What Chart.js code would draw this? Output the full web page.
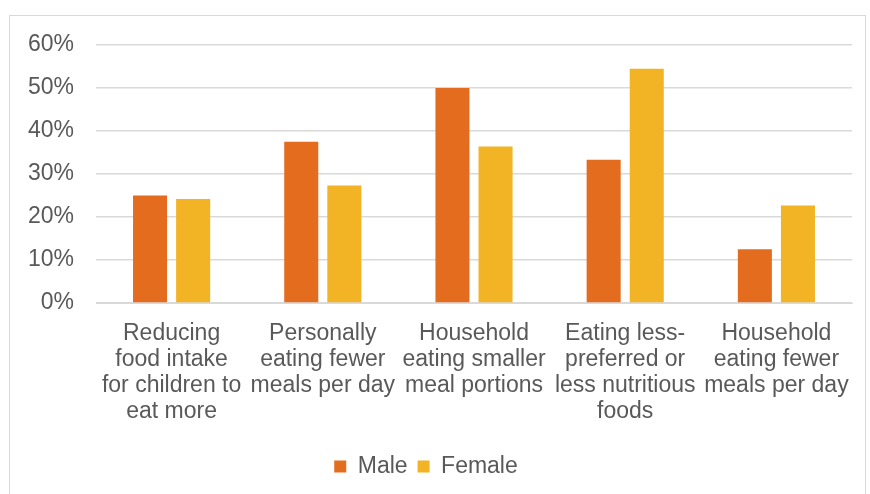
<!DOCTYPE html>
<html>
<head>
<meta charset="utf-8">
<script src="https://cdn.jsdelivr.net/npm/chart.js@4/dist/chart.umd.min.js"></script>
<style>
  html, body { margin: 0; padding: 0; background: #fff; }
  #frame { position: absolute; left: 9px; top: 15px; width: 857px; height: 490px; border: 1px solid #d9d9d9; box-sizing: border-box; }
  #wrap { position: absolute; left: 0; top: 0; width: 870px; height: 494px; }
</style>
</head>
<body>
<div id="frame"></div>
<div id="wrap"><canvas id="c" width="870" height="494"></canvas></div>
<script>
const categories = [
  ["Reducing", "food intake", "for children to", "eat more"],
  ["Personally", "eating fewer", "meals per day"],
  ["Household", "eating smaller", "meal portions"],
  ["Eating less-", "preferred or", "less nutritious", "foods"],
  ["Household", "eating fewer", "meals per day"]
];
const maleValues = [25.0, 37.5, 50.0, 33.3, 12.5];
const femaleValues = [24.2, 27.3, 36.4, 54.5, 22.7];
const yTicks = [0, 10, 20, 30, 40, 50, 60];

const font = { family: "'Liberation Sans', Arial, sans-serif", size: 23, lineHeight: 1.13 };

new Chart(document.getElementById('c'), {
  type: 'bar',
  data: {
    labels: categories,
    datasets: [
      { label: 'Male', data: maleValues, backgroundColor: '#E46C1F', categoryPercentage: 0.57, barPercentage: 0.79 },
      { label: 'Female', data: femaleValues, backgroundColor: '#F2B324', categoryPercentage: 0.57, barPercentage: 0.79 }
    ]
  },
  options: {
    responsive: false,
    animation: false,
    layout: { padding: { top: 45, right: 18, left: 0, bottom: 6 } },
    plugins: {
      legend: {
        position: 'bottom',
        labels: { font: font, color: '#595959', boxWidth: 12, boxHeight: 12, padding: 10 }
      },
      tooltip: { enabled: false }
    },
    scales: {
      x: {
        grid: { display: false, drawTicks: false },
        border: { display: true, color: '#d9d9d9', width: 1 },
        ticks: { font: font, color: '#595959', maxRotation: 0, autoSkip: false, padding: 18 },
        afterFit: s => { s.height = 142; }
      },
      y: {
        min: 0, max: 60,
        afterBuildTicks: s => { s.ticks = yTicks.map(v => ({ value: v })); },
        grid: { color: '#d9d9d9', lineWidth: 1.5, drawTicks: false },
        border: { display: false },
        ticks: { font: font, color: '#595959', padding: 22, callback: v => v + '%' },
        afterFit: s => { s.width = 96; }
      }
    }
  }
});
</script>
</body>
</html>
